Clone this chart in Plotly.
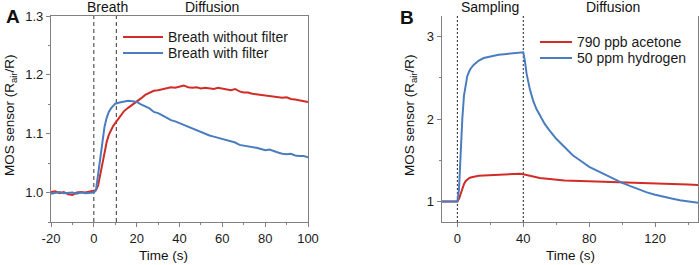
import plotly.graph_objects as go

# ---------------- Panel A data ----------------
time_a = [-20, -18, -16, -14, -12, -10, -8, -6, -4, -2, 0,
          1, 2, 3, 4, 5, 6, 7, 8, 9, 10,
          12, 14, 16, 18, 20, 22, 24, 26, 28, 30, 32, 34, 36, 38, 40,
          42, 44, 46, 48, 50, 52, 54, 56, 58, 60, 62, 64, 66, 68, 70,
          72, 74, 76, 78, 80, 82, 84, 86, 88, 90, 92, 94, 96, 98, 100]
breath_without_filter = [1.001, 1.002, 0.999, 1.001, 0.997, 0.996, 1.000, 1.001, 1.000, 1.002, 1.003,
                         1.004, 1.012, 1.030, 1.050, 1.070, 1.086, 1.098, 1.106, 1.113, 1.118,
                         1.128, 1.138, 1.144, 1.149, 1.154, 1.160, 1.166, 1.170, 1.173, 1.174,
                         1.176, 1.177, 1.179, 1.178, 1.180,
                         1.182, 1.179, 1.178, 1.179, 1.177, 1.178, 1.177, 1.176, 1.178, 1.177,
                         1.175, 1.174, 1.176, 1.172, 1.170,
                         1.170, 1.168, 1.167, 1.166, 1.164, 1.163, 1.163, 1.162, 1.161, 1.162,
                         1.159, 1.158, 1.157, 1.156, 1.154]
breath_with_filter = [0.998, 0.999, 1.001, 0.999, 1.000, 1.000, 0.998, 1.000, 0.999, 1.000, 1.000,
                      1.004, 1.030, 1.056, 1.090, 1.112, 1.127, 1.137, 1.143, 1.148, 1.151,
                      1.153, 1.155, 1.156, 1.155, 1.154, 1.150, 1.147, 1.143, 1.137, 1.135,
                      1.131, 1.127, 1.123, 1.121, 1.118,
                      1.115, 1.111, 1.108, 1.105, 1.102, 1.100, 1.097, 1.095, 1.093, 1.092,
                      1.089, 1.087, 1.085, 1.081, 1.080,
                      1.078, 1.077, 1.076, 1.074, 1.072, 1.073, 1.070, 1.068, 1.066, 1.065,
                      1.066, 1.063, 1.062, 1.062, 1.060]
events_a = [0, 10.5]
xticks_a = [-20, 0, 20, 40, 60, 80, 100]
xticklabels_a = ["-20", "0", "20", "40", "60", "80", "100"]
yticks_a = [1.0, 1.1, 1.2, 1.3]
yticklabels_a = ["1.0", "1.1", "1.2", "1.3"]

# ---------------- Panel B data ----------------
time_b = [-10, -5, 0, 1, 2, 3, 4, 5, 6, 7, 8, 10, 13, 16, 20, 25, 30, 35, 38, 40,
          41, 42, 44, 46, 48, 50, 53, 56, 60, 65, 70, 75, 80, 85, 90, 95, 100,
          105, 110, 115, 120, 125, 130, 135, 140, 146]
acetone_790ppb = [1.0, 1.0, 1.0, 1.03, 1.10, 1.16, 1.21, 1.245, 1.265, 1.28, 1.29, 1.30, 1.31,
                  1.315, 1.32, 1.325, 1.33, 1.335, 1.335, 1.33,
                  1.325, 1.32, 1.31, 1.30, 1.29, 1.285, 1.278, 1.27, 1.26, 1.255, 1.25,
                  1.246, 1.243, 1.239, 1.235, 1.232, 1.229,
                  1.225, 1.222, 1.220, 1.218, 1.214, 1.211, 1.207, 1.204, 1.200]
hydrogen_50ppm = [1.0, 1.0, 1.0, 1.15, 1.6, 2.0, 2.28, 2.43, 2.52, 2.57, 2.61, 2.66, 2.71,
                  2.74, 2.76, 2.78, 2.79, 2.80, 2.805, 2.81,
                  2.70, 2.55, 2.36, 2.22, 2.12, 2.04, 1.94, 1.86, 1.76, 1.66, 1.56,
                  1.49, 1.42, 1.37, 1.32, 1.27, 1.225,
                  1.185, 1.145, 1.11, 1.08, 1.055, 1.035, 1.015, 1.0, 0.985]
events_b = [0, 40]
xticks_b = [0, 40, 80, 120]
yticks_b = [1, 2, 3]

RED = "#d12c27"
BLUE = "#4a7dbf"
W, H = 699, 265
FONT = "Liberation Sans, Arial, sans-serif"

fig = go.Figure()
fig.add_trace(go.Scatter(x=time_a, y=breath_without_filter, mode="lines", name="Breath without filter",
                         line=dict(color=RED, width=2), xaxis="x", yaxis="y", legend="legend",
                         showlegend=True))
fig.add_trace(go.Scatter(x=time_a, y=breath_with_filter, mode="lines", name="Breath with filter",
                         line=dict(color=BLUE, width=2), xaxis="x", yaxis="y", legend="legend2",
                         showlegend=True))
fig.add_trace(go.Scatter(x=time_b, y=acetone_790ppb, mode="lines", name="790 ppb acetone",
                         line=dict(color=RED, width=2), xaxis="x2", yaxis="y2", legend="legend3",
                         showlegend=True))
fig.add_trace(go.Scatter(x=time_b, y=hydrogen_50ppm, mode="lines", name="50 ppm hydrogen",
                         line=dict(color=BLUE, width=2), xaxis="x2", yaxis="y2", legend="legend4",
                         showlegend=True))

shapes = []
for e in events_a:
    shapes.append(dict(type="line", xref="x", yref="y domain", x0=e, x1=e, y0=0, y1=1,
                       line=dict(color="#333", width=1, dash="4px,3px"), layer="below"))
for e in events_b:
    shapes.append(dict(type="line", xref="x2", yref="y2 domain", x0=e, x1=e, y0=0, y1=1,
                       line=dict(color="#222", width=1, dash="2px,2px"), layer="below"))

def px_x(p):
    return p / W

def px_y(p):
    return 1 - p / H

axis_common = dict(showgrid=False, zeroline=False, showline=True, linecolor="#808080", linewidth=1.2,
                   ticks="outside", ticklen=4, tickcolor="#808080", tickwidth=1.2, automargin=False,
                   tickfont=dict(family=FONT, size=13, color="#1a1a1a"))

dom_y = [px_y(222), px_y(16)]
layout = dict(
    width=W, height=H, margin=dict(l=0, r=0, t=0, b=0, autoexpand=False),
    paper_bgcolor="white", plot_bgcolor="white", showlegend=True,
    font=dict(family=FONT, color="#1a1a1a"),
    shapes=shapes,
    xaxis=dict(domain=[px_x(51), px_x(308)], range=[-20, 100], tickvals=xticks_a, ticktext=xticklabels_a,
               anchor="y", mirror=True,
               minor=dict(dtick=10, ticks="outside", ticklen=2, tickcolor="#808080"), **axis_common),
    yaxis=dict(domain=dom_y, range=[0.95, 1.3], tickvals=yticks_a, ticktext=yticklabels_a,
               anchor="x", mirror=True,
               minor=dict(dtick=0.05, ticks="outside", ticklen=2, tickcolor="#808080"), **axis_common),
    xaxis2=dict(domain=[px_x(441.7), px_x(698)], range=[-9.5, 146], tickvals=xticks_b, anchor="y2",
                minor=dict(dtick=20, ticks="outside", ticklen=2, tickcolor="#808080"), **axis_common),
    yaxis2=dict(domain=dom_y, range=[0.75, 3.25], tickvals=yticks_b, anchor="x2", mirror=True,
                minor=dict(dtick=0.5, ticks="outside", ticklen=2, tickcolor="#808080"), **axis_common),
)

leg = dict(bgcolor="rgba(0,0,0,0)", borderwidth=0, xanchor="left", yanchor="middle",
           font=dict(family=FONT, size=14, color="#1a1a1a"))
layout["legend"] = dict(x=px_x(118), y=px_y(37.3), itemwidth=40, **leg)
layout["legend2"] = dict(x=px_x(118), y=px_y(53.3), itemwidth=40, **leg)
layout["legend3"] = dict(x=px_x(535), y=px_y(42.3), itemwidth=32, **leg)
layout["legend4"] = dict(x=px_x(535), y=px_y(58.3), itemwidth=32, **leg)

ann = []
def text(x, y, s, size=14, bold=False, angle=0):
    ann.append(dict(x=px_x(x), y=px_y(y), xref="paper", yref="paper", text=(f"<b>{s}</b>" if bold else s),
                    showarrow=False, xanchor="center", yanchor="middle", textangle=angle,
                    font=dict(family=FONT, size=size, color="#111")))

text(107, 7, "Breath")
text(212, 7, "Diffusion")
text(490, 7, "Sampling")
text(613, 7, "Diffusion")
text(13, 17, "A", size=19, bold=True)
text(406.5, 18, "B", size=19, bold=True)
text(163, 255, "Time (s)", size=13.5)
text(570, 255, "Time (s)", size=13.5)
text(10, 115, "MOS sensor (R<sub>air</sub>/R)", size=13.5, angle=-90)
text(410, 115, "MOS sensor (R<sub>air</sub>/R)", size=13.5, angle=-90)
layout["annotations"] = ann

fig.update_layout(**layout)
fig.write_html("out.html", config={"displayModeBar": False},
               post_script="document.body.style.margin='0';document.body.style.padding='0';")
